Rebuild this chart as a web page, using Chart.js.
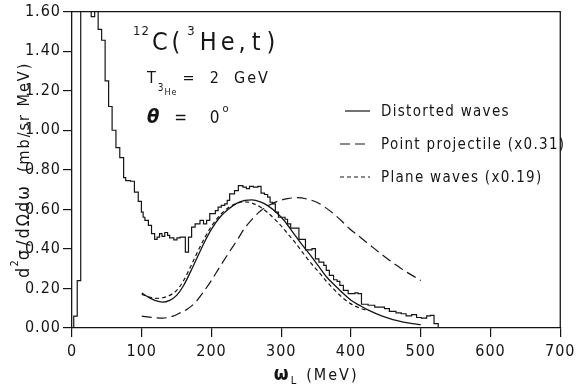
<!DOCTYPE html>
<html>
<head>
<meta charset="utf-8">
<script src="https://cdn.jsdelivr.net/npm/chart.js@4.4.1/dist/chart.umd.min.js"></script>
<style>
  html, body { margin: 0; padding: 0; background: #fff; }
  #wrap { width: 579px; height: 385px; }
</style>
</head>
<body>
<div id="wrap"><canvas id="chart" width="579" height="385"></canvas></div>
<script>
// 实验谱（直方图）：每个 bin 的左边界 (MeV) 和高度 (mb/sr MeV)
const histX = [0, 2.5, 7.5, 12.5, 17.5, 22.5, 27.5, 32.5, 37.5, 42.5, 47.5, 52.5, 57.5, 63, 68.5, 74, 77,
  84, 89.5, 95, 99.5, 102, 104.5, 109.5, 114, 118.5, 122, 125.5, 129, 133, 137, 140, 146, 150.5, 155,
  162.5, 167, 171.5, 176.5, 183.5, 188.5, 193, 197.5, 205.5, 209.5, 214, 219, 222.5, 226, 233, 238.5,
  245, 250, 254.5, 260, 266.5, 271, 276, 280.5, 284, 287.5, 291.5, 296, 305.5, 309, 313.5, 325.3,
  334.7, 344, 349, 354, 361, 364.5, 369, 375, 380, 384, 389, 396, 405.5, 410, 415, 424.5, 434, 448,
  455, 464.5, 472, 479, 487, 494, 501, 508.5, 514, 519, 525];
const histY = [0, 0.06, 0.24, 1.9, 1.85, 1.75, 1.575, 1.65, 1.51, 1.455, 1.25, 1.12, 1.0, 0.912, 0.862, 0.76, 0.745,
  0.742, 0.687, 0.64, 0.586, 0.56, 0.544, 0.519, 0.477, 0.448, 0.46, 0.477, 0.463, 0.483, 0.468, 0.456, 0.446, 0.456, 0.46,
  0.384, 0.46, 0.51, 0.527, 0.544, 0.527, 0.544, 0.578, 0.594, 0.611, 0.62, 0.628, 0.645, 0.678, 0.695, 0.72,
  0.712, 0.705, 0.716, 0.712, 0.716, 0.682, 0.675, 0.662, 0.636, 0.628, 0.586, 0.56, 0.55, 0.527, 0.505, 0.448,
  0.395, 0.401, 0.35, 0.333, 0.317, 0.291, 0.266, 0.244, 0.236, 0.216, 0.19, 0.174, 0.178, 0.174, 0.12, 0.115, 0.106, 0.098,
  0.084, 0.076, 0.072, 0.061, 0.068, 0.053, 0.05, 0.061, 0.064, 0.022, 0];

// Distorted waves（实线）
const dwX = [100, 110, 120, 130, 140, 150, 160, 170, 180, 190, 200, 212, 224, 236, 248, 258, 270, 280, 295,
  305, 318, 330, 342, 354, 365, 377, 389, 400, 413, 425, 436, 448, 460, 475, 488, 500];
const dwY = [0.177, 0.155, 0.138, 0.131, 0.14, 0.165, 0.215, 0.285, 0.36, 0.435, 0.5, 0.56, 0.6, 0.63, 0.645, 0.648, 0.638, 0.62, 0.578,
  0.54, 0.477, 0.42, 0.367, 0.31, 0.258, 0.215, 0.174, 0.14, 0.113, 0.09, 0.073, 0.056, 0.042, 0.03, 0.022, 0.017];

// Point projectile (x0.31)（长虚线）
const ppX = [100, 115, 130, 145, 153, 165, 177, 188, 200, 212, 224, 236, 247, 259, 271, 283, 295, 309, 323,
  337, 351, 363, 375, 387, 398, 410, 422, 434, 446, 458, 469, 481, 493, 500];
const ppY = [0.06, 0.053, 0.05, 0.06, 0.073, 0.095, 0.13, 0.18, 0.241, 0.31, 0.376, 0.44, 0.502, 0.553, 0.594, 0.622, 0.641, 0.654, 0.659,
  0.652, 0.636, 0.61, 0.578, 0.54, 0.502, 0.468, 0.434, 0.4, 0.367, 0.335, 0.308, 0.28, 0.255, 0.24];

// Plane waves (x0.19)（短虚线）
const pwX = [100, 110, 120, 130, 140, 150, 160, 170, 180, 190, 200, 212, 224, 236, 248, 258, 270, 280, 295,
  305, 318, 330, 342, 354, 365, 377, 389, 400, 413, 425];
const pwY = [0.17, 0.158, 0.15, 0.153, 0.165, 0.19, 0.24, 0.31, 0.385, 0.455, 0.515, 0.57, 0.608, 0.63, 0.638, 0.632, 0.612, 0.585, 0.535,
  0.495, 0.44, 0.385, 0.33, 0.282, 0.235, 0.19, 0.15, 0.122, 0.1, 0.088];

// 坐标轴刻度
const xTicks = [0, 100, 200, 300, 400, 500, 600, 700];
const yTicks = [0, 0.2, 0.4, 0.6, 0.8, 1.0, 1.2, 1.4, 1.6];

const legendLabels = ['Distorted waves', 'Point projectile (x0.31)', 'Plane waves (x0.19)'];

const FONT = "'Liberation Sans Narrow', 'Arial Narrow', 'DejaVu Sans Condensed', 'Liberation Sans', sans-serif";
const INK = '#151515';

function toPoints(xs, ys) {
  return xs.map((x, i) => ({ x: x, y: ys[i] }));
}

// 逐段绘制文字（上下标用）
function runFont(r) {
  return (r.style || '') + ' ' + r.size + 'px ' + FONT;
}
function runsWidth(ctx, runs) {
  let w = 0;
  runs.forEach(r => {
    ctx.font = runFont(r);
    ctx.letterSpacing = (r.ls === undefined ? 1 : r.ls) + 'px';
    w += ctx.measureText(r.t).width + (r.gap || 0);
  });
  return w;
}
function drawRuns(ctx, runs, x, y) {
  runs.forEach(r => {
    ctx.font = runFont(r);
    ctx.letterSpacing = (r.ls === undefined ? 1 : r.ls) + 'px';
    ctx.fillText(r.t, x, y + (r.dy || 0));
    x += ctx.measureText(r.t).width + (r.gap || 0);
  });
}

const textPlugin = {
  id: 'figureText',
  beforeDraw(chart) {
    chart.ctx.letterSpacing = '1px';
  },
  afterDraw(chart) {
    const ctx = chart.ctx;
    const area = chart.chartArea;
    ctx.save();
    ctx.fillStyle = INK;
    ctx.strokeStyle = INK;
    ctx.textBaseline = 'alphabetic';
    ctx.textAlign = 'left';

    // 上边框和右边框
    ctx.lineWidth = 1.3;
    ctx.beginPath();
    ctx.moveTo(area.left, area.top);
    ctx.lineTo(area.right, area.top);
    ctx.lineTo(area.right, area.bottom);
    ctx.stroke();

    // 反应式
    drawRuns(ctx, [
      { t: '12', size: 13, dy: -15, gap: 2 },
      { t: 'C', size: 25, ls: 4 },
      { t: '(', size: 25, ls: 4, gap: 3 },
      { t: '3', size: 13, dy: -15, gap: 4 },
      { t: 'He', size: 25, ls: 4 },
      { t: ',', size: 25, ls: 6 },
      { t: 't', size: 25, ls: 6 },
      { t: ')', size: 25 }
    ], 133, 50);

    drawRuns(ctx, [
      { t: 'T', size: 16, gap: 1 },
      { t: '3', size: 10, dy: 8 },
      { t: 'He', size: 9, dy: 12, gap: 5 },
      { t: '=  2  GeV', size: 16, ls: 2 }
    ], 147, 83);

    drawRuns(ctx, [
      { t: 'θ', size: 20, style: 'bold italic', gap: 14 },
      { t: '=   0', size: 17, ls: 2, gap: 1 },
      { t: 'o', size: 11, dy: -11 }
    ], 147, 123);

    // 图例
    const rows = [116, 149, 182];
    const dashes = [[], [10, 5], [4, 3]];
    ctx.lineWidth = 1.2;
    rows.forEach((y, i) => {
      ctx.setLineDash(dashes[i]);
      ctx.beginPath();
      ctx.moveTo(i === 0 ? 345 : 340, y - 5);
      ctx.lineTo(370, y - 5);
      ctx.stroke();
      drawRuns(ctx, [{ t: legendLabels[i], size: 15, ls: 1.3 }], 381, y);
    });
    ctx.setLineDash([]);

    // x 轴标题
    const xRuns = [
      { t: 'ω', size: 19, style: 'bold', gap: 1 },
      { t: 'L', size: 11, dy: 4, gap: 9 },
      { t: '(MeV)', size: 16, ls: 2 }
    ];
    const xw = runsWidth(ctx, xRuns);
    drawRuns(ctx, xRuns, (area.left + area.right) / 2 - xw / 2, 380);

    // y 轴标题（旋转）
    const yRuns = [
      { t: 'd', size: 18 },
      { t: '2', size: 11, dy: -11, gap: -1 },
      { t: 'σ', size: 18, gap: 3 },
      { t: '/dΩdω', size: 18, ls: 2, gap: 12 },
      { t: '(mb/sr MeV)', size: 16, ls: 2 }
    ];
    const yw = runsWidth(ctx, yRuns);
    ctx.translate(29, (area.top + area.bottom) / 2 + yw / 2);
    ctx.rotate(-Math.PI / 2);
    drawRuns(ctx, yRuns, 0, 0);
    ctx.restore();
  }
};

const ctx = document.getElementById('chart').getContext('2d');

new Chart(ctx, {
  type: 'line',
  data: {
    datasets: [
      {
        label: 'Data',
        data: toPoints(histX, histY),
        stepped: true,
        borderColor: INK,
        borderWidth: 1.2,
        pointRadius: 0,
        fill: false
      },
      {
        label: legendLabels[0],
        data: toPoints(dwX, dwY),
        borderColor: INK,
        borderWidth: 1.3,
        pointRadius: 0,
        cubicInterpolationMode: 'monotone',
        fill: false
      },
      {
        label: legendLabels[1],
        data: toPoints(ppX, ppY),
        borderColor: INK,
        borderWidth: 1.2,
        borderDash: [10, 5],
        pointRadius: 0,
        cubicInterpolationMode: 'monotone',
        fill: false
      },
      {
        label: legendLabels[2],
        data: toPoints(pwX, pwY),
        borderColor: INK,
        borderWidth: 1.2,
        borderDash: [4, 3],
        pointRadius: 0,
        cubicInterpolationMode: 'monotone',
        fill: false
      }
    ]
  },
  options: {
    responsive: false,
    animation: false,
    layout: {
      padding: { top: 11, right: 13, left: 0, bottom: 0 }
    },
    plugins: {
      legend: { display: false },
      tooltip: { enabled: false }
    },
    scales: {
      x: {
        type: 'linear',
        min: 0,
        max: 700,
        afterBuildTicks: scale => {
          scale.ticks = xTicks.map(v => ({ value: v }));
        },
        afterFit: scale => {
          scale.height = 385 - 328;
        },
        grid: {
          drawOnChartArea: false,
          drawTicks: true,
          tickLength: 9,
          color: INK,
          lineWidth: 1.2
        },
        border: { display: true, color: INK, width: 1.3 },
        ticks: {
          color: INK,
          padding: 5,
          maxRotation: 0,
          font: { family: FONT, size: 16 },
          callback: value => String(value)
        }
      },
      y: {
        type: 'linear',
        min: 0,
        max: 1.6,
        afterBuildTicks: scale => {
          scale.ticks = yTicks.map(v => ({ value: v }));
        },
        afterFit: scale => {
          scale.width = 72;
        },
        grid: {
          drawOnChartArea: false,
          drawTicks: true,
          tickLength: 9,
          color: INK,
          lineWidth: 1.2
        },
        border: { display: true, color: INK, width: 1.3 },
        ticks: {
          color: INK,
          padding: 2,
          font: { family: FONT, size: 16 },
          callback: value => value.toFixed(2)
        }
      }
    }
  },
  plugins: [textPlugin]
});
</script>
</body>
</html>
